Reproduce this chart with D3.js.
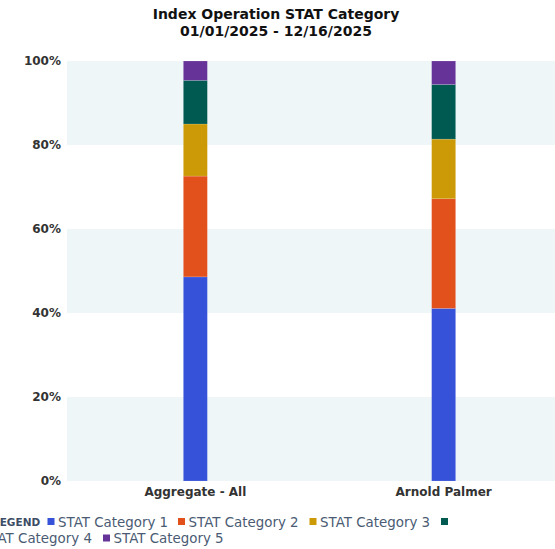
<!DOCTYPE html>
<html>
<head>
<meta charset="utf-8">
<script src="https://cdn.jsdelivr.net/npm/d3@7"></script>
<style>
  html, body { margin: 0; padding: 0; background: #fff; overflow: hidden; }
  svg { display: block; font-family: "DejaVu Sans", sans-serif; }
</style>
</head>
<body>
<svg id="chart" width="555" height="549"></svg>
<script>
// Sites on the x axis
const categories = ["Aggregate - All", "Arnold Palmer"];
// Stacked share (%) per STAT category, one value per site
const seriesNames = ["STAT Category 1", "STAT Category 2", "STAT Category 3", "STAT Category 4", "STAT Category 5"];
const cat1 = [48.6, 41.1];
const cat2 = [24.0, 26.1];
const cat3 = [12.4, 14.2];
const cat4 = [10.4, 13.0];
const cat5 = [4.6, 5.6];
const seriesColors = ["#3552d8", "#e2501c", "#cc9a06", "#005a52", "#663399"];
const yTicks = [0, 20, 40, 60, 80, 100];
const titleLines = ["Index Operation STAT Category", "01/01/2025 - 12/16/2025"];

const svg = d3.select("#chart");
const plot = { left: 67, right: 572, top: 61, bottom: 481 };

const rows = categories.map((c, i) => ({
  site: c,
  "STAT Category 1": cat1[i],
  "STAT Category 2": cat2[i],
  "STAT Category 3": cat3[i],
  "STAT Category 4": cat4[i],
  "STAT Category 5": cat5[i]
}));
const stacked = d3.stack().keys(seriesNames)(rows);

const x = d3.scaleBand().domain(categories).range([plot.left, plot.right]).paddingInner(0).paddingOuter(0.017);
const y = d3.scaleLinear().domain([0, 100]).range([plot.bottom, plot.top]);
const color = d3.scaleOrdinal().domain(seriesNames).range(seriesColors);
const barW = 24;

// Alternating horizontal bands
const bandPairs = [[0, 20], [40, 60], [80, 100]];
svg.append("g").selectAll("rect").data(bandPairs).join("rect")
  .attr("x", plot.left).attr("width", 555 - plot.left)
  .attr("y", d => y(d[1])).attr("height", d => y(d[0]) - y(d[1]))
  .attr("fill", "#eef6f8");

// Stacked bars
svg.append("g").selectAll("g").data(stacked).join("g")
  .attr("fill", d => color(d.key))
  .selectAll("rect").data(d => d).join("rect")
  .attr("x", d => x(d.data.site) + x.bandwidth() / 2 - barW / 2)
  .attr("width", barW)
  .attr("y", d => y(d[1]))
  .attr("height", d => y(d[0]) - y(d[1]))
  .attr("stroke", "rgba(255,255,255,0.25)")
  .attr("stroke-width", 0.6);

// Y axis
const yAxis = svg.append("g").attr("transform", `translate(${plot.left},0)`)
  .call(d3.axisLeft(y).tickValues(yTicks).tickFormat(d => d + "%").tickSize(0).tickPadding(6));
yAxis.select(".domain").remove();
yAxis.selectAll("text").attr("font-size", 12).attr("font-weight", "bold")
  .attr("fill", "#333").attr("font-family", "DejaVu Sans, sans-serif");

// X axis
const xAxis = svg.append("g").attr("transform", `translate(0,${plot.bottom})`)
  .call(d3.axisBottom(x).tickSize(0).tickPadding(6));
xAxis.select(".domain").remove();
xAxis.selectAll("text").attr("font-size", 12).attr("font-weight", "bold")
  .attr("fill", "#333").attr("font-family", "DejaVu Sans, sans-serif");

// Title
svg.append("g").selectAll("text").data(titleLines).join("text")
  .attr("x", 276).attr("y", (d, i) => 18.5 + i * 17)
  .attr("text-anchor", "middle").attr("font-size", 14).attr("font-weight", "bold")
  .attr("fill", "#111").text(d => d);

// Legend (wraps onto a second line)
const legend = svg.append("g");
legend.append("text").attr("x", -7).attr("y", 525.5)
  .attr("font-size", 10.5).attr("font-weight", "bold").attr("fill", "#3d4d66")
  .text("LEGEND");
const legendPos = [
  { x: 47.5, y: 521.5 }, { x: 178, y: 521.5 }, { x: 309.5, y: 521.5 }, { x: 441, y: 521.5 }, { x: 103, y: 538 }
];
const idx = d => seriesNames.indexOf(d);
const items = legend.selectAll("g.item").data(seriesNames).join("g").attr("class", "item");
items.append("rect")
  .attr("x", d => legendPos[idx(d)].x).attr("y", d => legendPos[idx(d)].y - 3.5)
  .attr("width", 7).attr("height", 7).attr("fill", d => color(d));
items.filter(d => idx(d) !== 3).append("text")
  .attr("x", d => legendPos[idx(d)].x + 10.5).attr("y", d => legendPos[idx(d)].y + 5)
  .attr("font-size", 13.4).attr("fill", "#4a5b73").text(d => d);
// Fourth label wraps to the second line
legend.append("text").attr("x", 92).attr("y", 543.3)
  .attr("text-anchor", "end").attr("font-size", 13.4).attr("fill", "#4a5b73")
  .text(seriesNames[3]);
</script>
</body>
</html>
